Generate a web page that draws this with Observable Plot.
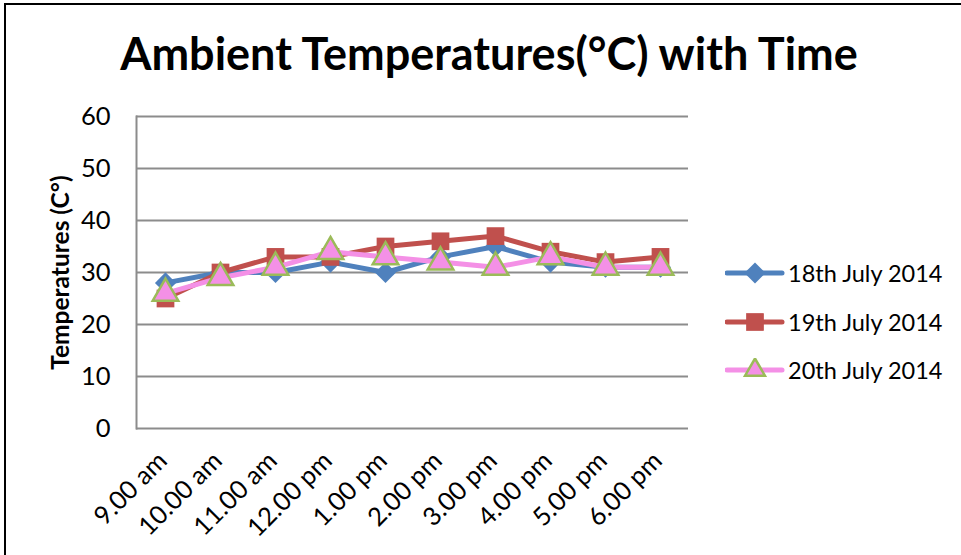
<!DOCTYPE html>
<html>
<head>
<meta charset="utf-8">
<script src="https://cdn.jsdelivr.net/npm/d3@7"></script>
<script src="https://cdn.jsdelivr.net/npm/@observablehq/plot@0.6"></script>
<style>
  html, body { margin: 0; padding: 0; background: #fff; }
  body { width: 961px; height: 555px; position: relative; overflow: hidden; font-family: Lato, "Open Sans", sans-serif; }
  #frame { position: absolute; left: 4px; top: 3px; width: 1000px; height: 600px; border-left: 2px solid #000; border-top: 2px solid #000; box-sizing: border-box; }
  #title { position: absolute; left: 0; width: 978px; top: 26px; text-align: center; font-size: 45px; font-weight: bold; color: #000; line-height: 1.2; }
  #chart { position: absolute; left: 0; top: 0; }
  #legend { position: absolute; left: 725px; top: 249px; }
  .item { display: flex; align-items: center; height: 48.5px; font-size: 23.5px; color: #000; }
  .item svg { margin-right: 3px; }
</style>
</head>
<body>
<div id="frame"></div>
<div id="title">Ambient Temperatures(°C) with Time</div>
<div id="chart"></div>
<div id="legend"></div>
<script>
// Time of day readings
const times = ["9.00 am", "10.00 am", "11.00 am", "12.00 pm", "1.00 pm", "2.00 pm", "3.00 pm", "4.00 pm", "5.00 pm", "6.00 pm"];

// Ambient temperature (°C) per day
const temp18 = [28, 30, 30, 32, 30, 33, 35, 32, 31, 31];
const temp19 = [25, 30, 33, 33, 35, 36, 37, 34, 32, 33];
const temp20 = [26, 29, 31, 34, 33, 32, 31, 33, 31, 31];

const seriesNames = ["18th July 2014", "19th July 2014", "20th July 2014"];
const yTicks = [0, 10, 20, 30, 40, 50, 60];

const series = [
  {name: seriesNames[0], values: temp18, line: "#4F81BD", symbol: "diamond2", fill: "#4F81BD", stroke: "none", r: 9.5},
  {name: seriesNames[1], values: temp19, line: "#C0504D", symbol: "square", fill: "#C0504D", stroke: "none", r: 10},
  {name: seriesNames[2], values: temp20, line: "#F490E6", symbol: "triangle", fill: "#F490E6", stroke: "#9BBB59", r: 9.5}
];

const marks = [
  // horizontal gridlines (the 0 line doubles as the category axis) and the value axis line
  Plot.ruleY(yTicks, {stroke: "#8c8c8c", strokeWidth: 2, strokeOpacity: 1}),
  Plot.frame({anchor: "left", stroke: "#8c8c8c", strokeWidth: 2, strokeOpacity: 1}),
  // value tick labels
  Plot.text(yTicks, {y: d => d, frameAnchor: "left", textAnchor: "end", dx: -26, fontSize: 25.5, fill: "#000"}),
  // rotated category labels
  Plot.text(times, {x: d => d, frameAnchor: "bottom", textAnchor: "end", rotate: -45, dx: 3, dy: 34, fontSize: 25.5, fill: "#000"}),
  // value axis title
  Plot.text(["Temperatures (C°)"], {frameAnchor: "left", textAnchor: "middle", rotate: -90, dx: -75, fontSize: 24.5, fontWeight: "bold", fill: "#000"})
];

for (const s of series) {
  const rows = times.map((t, i) => ({time: t, temp: s.values[i]}));
  marks.push(Plot.line(rows, {x: "time", y: "temp", stroke: s.line, strokeWidth: 5, strokeLinejoin: "round"}));
  marks.push(Plot.dot(rows, {x: "time", y: "temp", symbol: s.symbol, r: s.r, fill: s.fill, stroke: s.stroke, strokeWidth: 2.5}));
}

const chart = Plot.plot({
  width: 961,
  height: 555,
  marginTop: 116,
  marginBottom: 127,
  marginLeft: 136,
  marginRight: 273,
  style: {fontFamily: "Lato, 'Open Sans', sans-serif", color: "#000", background: "transparent"},
  x: {type: "point", domain: times, padding: 0.5, axis: null},
  y: {domain: [0, 60], axis: null},
  marks
});
document.getElementById("chart").appendChild(chart);

// Legend entries: short line segment with the series marker, then the label
const legend = document.getElementById("legend");
for (const s of series) {
  const item = document.createElement("div");
  item.className = "item";
  const sw = d3.create("svg").attr("width", 60).attr("height", 24);
  sw.append("line").attr("x1", 2).attr("x2", 57).attr("y1", 12).attr("y2", 12)
    .attr("stroke", s.line).attr("stroke-width", 5).attr("stroke-linecap", "round");
  const symType = s.symbol === "diamond2" ? d3.symbolDiamond2 : s.symbol === "square" ? d3.symbolSquare : d3.symbolTriangle2;
  sw.append("path").attr("transform", "translate(30,12)")
    .attr("d", d3.symbol(symType, Math.PI * s.r * s.r)())
    .attr("fill", s.fill).attr("stroke", s.stroke).attr("stroke-width", 2.5);
  item.appendChild(sw.node());
  const label = document.createElement("span");
  label.textContent = s.name;
  item.appendChild(label);
  legend.appendChild(item);
}
</script>
</body>
</html>
